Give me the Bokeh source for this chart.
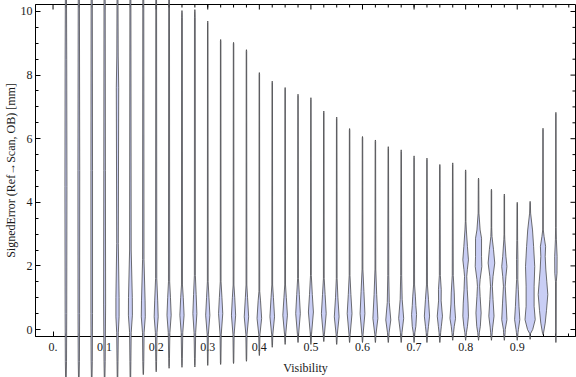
from bokeh.plotting import figure
from bokeh.models import Range1d, FixedTicker
from bokeh.embed import file_html
from bokeh.resources import INLINE

# ---------------- data ----------------
visibility = [0.025, 0.05, 0.075, 0.1, 0.125, 0.15, 0.175, 0.2, 0.225, 0.25,
              0.275, 0.3, 0.325, 0.35, 0.375, 0.4, 0.425, 0.45, 0.475, 0.5,
              0.525, 0.55, 0.575, 0.6, 0.625, 0.65, 0.675, 0.7, 0.725, 0.75,
              0.775, 0.8, 0.825, 0.85, 0.875, 0.9, 0.925, 0.95, 0.975]

# lower / upper end of every violin (signed error, mm)
error_min = [-1.7, -1.7, -1.7, -1.7, -1.7, -1.7, -1.42, -1.33, -1.22, -1.19,
             -1.18, -1.13, -1.10, -1.07, -1.00, -0.82, -0.56, -0.47, -0.41, -0.47,
             -0.38, -0.47, -0.41, -0.41, -0.41, -0.41, -0.41, -0.41, -0.41, -0.41,
             -0.34, -0.34, -0.34, -0.34, -0.34, -0.34, -0.31, -0.16, -0.41]
error_max = [10.8, 10.8, 10.8, 10.8, 10.8, 10.8, 10.8, 10.8, 10.8, 10.03,
             10.06, 9.70, 9.12, 9.03, 8.80, 8.08, 7.81, 7.61, 7.40, 7.29,
             6.87, 6.68, 6.32, 6.07, 5.96, 5.75, 5.65, 5.46, 5.39, 5.19,
             5.24, 5.02, 4.76, 4.41, 4.26, 4.00, 4.03, 6.33, 6.83]

# density outline of each violin: (signed error, half width in px of the original)
profiles = [
    [(-1.0, 0.6), (0.5, 0.8), (4.5, 1.0), (8.5, 0.8), (10.3, 0.6)],
    [(-1.0, 0.6), (0.5, 0.8), (5.0, 0.9), (10.3, 0.6)],
    [(-1.0, 0.6), (0.5, 0.8), (5.0, 0.8), (10.3, 0.6)],
    [(-1.0, 0.6), (0.8, 1.0), (5.0, 0.8), (10.3, 0.6)],
    [(-1.0, 0.5), (-0.1, 0.8), (0.4, 1.6), (1.0, 1.6), (2.7, 0.8), (7.6, 1.2), (8.6, 0.7), (10.3, 0.5)],
    [(-1.0, 0.5), (-0.1, 0.8), (0.45, 2.0), (1.0, 1.9), (2.5, 0.8), (10.3, 0.5)],
    [(-1.0, 0.5), (-0.1, 0.8), (0.4, 2.0), (0.9, 1.8), (2.2, 0.7), (10.3, 0.5)],
    [(-1.0, 0.4), (-0.1, 0.8), (0.4, 2.0), (0.9, 1.5), (1.6, 0.6), (10.3, 0.4)],
    [(-0.9, 0.4), (-0.1, 0.8), (0.45, 2.1), (1.0, 1.4), (1.5, 0.6), (10.3, 0.4)],
    [(-0.9, 0.4), (-0.1, 0.8), (0.45, 2.1), (1.0, 1.3), (1.4, 0.5), (9.8, 0.4)],
    [(-0.9, 0.4), (-0.1, 0.8), (0.5, 2.0), (1.1, 1.3), (1.7, 0.5), (9.8, 0.4)],
    [(-0.15, 0.6), (0.45, 2.1), (1.0, 1.2), (1.5, 0.4)],
    [(-0.15, 0.6), (0.5, 2.1), (1.0, 1.3), (1.5, 0.4)],
    [(-0.15, 0.6), (0.45, 2.1), (1.0, 1.2), (1.4, 0.4)],
    [(-0.15, 0.6), (0.4, 2.2), (1.0, 1.1), (1.4, 0.4)],
    [(-0.15, 0.6), (0.35, 2.3), (0.9, 1.2), (1.2, 0.4)],
    [(-0.15, 0.6), (0.4, 2.3), (1.0, 1.2), (1.4, 0.4)],
    [(-0.15, 0.6), (0.45, 2.3), (1.0, 1.2), (1.4, 0.4)],
    [(-0.15, 0.6), (0.5, 2.3), (1.1, 1.3), (1.6, 0.4)],
    [(-0.15, 0.6), (0.55, 2.5), (1.1, 1.4), (1.7, 0.4)],
    [(-0.15, 0.6), (0.5, 2.4), (1.1, 1.3), (1.6, 0.4)],
    [(-0.15, 0.6), (0.4, 2.4), (1.0, 1.2), (1.6, 0.4)],
    [(-0.15, 0.6), (0.5, 2.4), (1.1, 1.3), (1.7, 0.4)],
    [(-0.15, 0.6), (0.5, 2.4), (1.2, 1.4), (1.9, 0.4)],
    [(-0.15, 0.6), (0.35, 2.5), (1.1, 1.3), (1.9, 0.4)],
    [(-0.1, 0.8), (0.3, 2.5), (0.85, 1.0), (1.7, 0.5)],
    [(-0.1, 0.8), (0.35, 2.5), (0.95, 1.0), (1.7, 0.5)],
    [(-0.1, 0.8), (0.1, 1.8), (0.47, 2.5), (0.75, 1.8), (1.05, 1.3), (1.4, 0.5)],
    [(-0.1, 0.8), (0.1, 1.5), (0.42, 2.6), (0.95, 1.5), (1.4, 0.5)],
    [(-0.1, 0.8), (0.1, 1.5), (0.42, 2.6), (0.9, 1.3), (1.25, 1.4), (1.7, 0.5)],
    [(-0.1, 0.8), (0.1, 1.5), (0.35, 2.8), (0.8, 1.8), (1.15, 1.5), (1.7, 0.5)],
    [(-0.1, 0.8), (0.1, 1.8), (0.42, 2.8), (0.83, 2.4), (1.25, 1.6), (1.67, 1.1), (1.88, 1.7),
     (2.19, 2.8), (2.61, 1.8), (3.13, 0.7), (3.4, 0.3)],
    [(-0.1, 0.8), (0.1, 1.8), (0.52, 2.6), (1.04, 1.6), (1.36, 1.1), (1.57, 1.6), (1.98, 3.3),
     (2.3, 3.0), (2.87, 3.0), (3.13, 1.6), (3.66, 0.4)],
    [(-0.1, 0.8), (0.05, 1.2), (0.42, 2.6), (0.94, 1.6), (1.36, 0.9), (1.67, 1.6), (2.09, 3.3),
     (2.51, 2.1), (2.92, 0.6), (3.2, 0.3)],
    [(-0.1, 0.8), (0.0, 0.9), (0.31, 2.6), (0.83, 1.8), (1.36, 0.9), (1.67, 1.6), (1.98, 2.6),
     (2.3, 1.6), (2.82, 0.5), (3.0, 0.3)],
    [(-0.1, 0.8), (0.0, 1.2), (0.31, 2.6), (0.73, 1.8), (1.25, 1.1), (1.57, 0.6), (2.2, 0.7), (2.8, 0.4)],
    [(-0.13, 0.4), (0.0, 2.6), (0.31, 5.1), (0.73, 4.0), (1.36, 4.0), (1.98, 4.6), (2.61, 3.5),
     (3.13, 2.4), (3.66, 0.5)],
    [(-0.13, 0.4), (0.2, 2.2), (0.6, 3.5), (1.1, 4.8), (1.5, 3.8), (1.9, 2.8), (2.3, 2.2),
     (2.61, 2.6), (2.92, 1.1), (3.13, 0.3)],
    [(-0.2, 0.3), (1.5, 0.4), (1.77, 1.1), (2.3, 1.2), (2.82, 0.5), (3.2, 0.3)],
]

x_tick_values = [0.0, 0.1, 0.2, 0.3, 0.4, 0.5, 0.6, 0.7, 0.8, 0.9]
x_tick_labels = ["0.", "0.1", "0.2", "0.3", "0.4", "0.5", "0.6", "0.7", "0.8", "0.9"]
y_tick_values = [0, 2, 4, 6, 8, 10]
x_minor_values = [0.025 * i for i in range(0, 41)]
y_minor_values = [0.5 * i for i in range(0, 21)]

X_LO, X_HI = -0.034, 1.013
Y_LO, Y_HI = -0.22, 10.22

# ---------------- build violin outlines ----------------
PX = 1.0 / 515.0   # one pixel of the original chart in visibility units
STEM = 0.25
xs, ys = [], []
for v, lo, hi, prof in zip(visibility, error_min, error_max, profiles):
    knots = list(prof)
    if lo + 0.05 < knots[0][0]:
        knots = [(lo + 0.05, STEM)] + knots
    if hi - 0.05 > knots[-1][0]:
        knots = knots + [(hi - 0.05, STEM)]
    knots = [(lo, 0.0)] + knots + [(hi, 0.0)]
    yy = [k[0] for k in knots]
    ww = [k[1] for k in knots]
    xs.append([v + w * PX for w in ww] + [v - w * PX for w in reversed(ww)])
    ys.append(yy + yy[::-1])

FONT = "Liberation Serif"

p = figure(width=576, height=377,
           x_range=Range1d(X_LO, X_HI), y_range=Range1d(Y_LO, Y_HI),
           output_backend="svg", toolbar_location=None,
           min_border_left=34, min_border_right=1, min_border_top=4, min_border_bottom=40)
p.grid.visible = False
p.outline_line_color = "black"
p.outline_line_width = 1
p.background_fill_color = "white"
p.border_fill_color = "white"


def style_axis(ax):
    ax.axis_line_color = "black"
    ax.axis_line_width = 1
    ax.major_tick_line_color = "black"
    ax.minor_tick_line_color = "black"
    ax.major_tick_in = 5
    ax.major_tick_out = 0
    ax.minor_tick_in = 3
    ax.minor_tick_out = 0
    ax.major_label_text_font = FONT
    ax.major_label_text_color = "#1a1a1a"
    ax.major_label_text_font_size = "12px"
    ax.axis_label_text_font = FONT
    ax.axis_label_text_font_size = "12px"
    ax.axis_label_text_font_style = "normal"
    ax.axis_label_text_color = "#1a1a1a"


xa = p.xaxis[0]
xa.ticker = FixedTicker(ticks=x_tick_values, minor_ticks=x_minor_values)
xa.major_label_overrides = dict(zip(x_tick_values, x_tick_labels))
xa.axis_label = "Visibility"
style_axis(xa)
xa.major_label_standoff = 6
xa.axis_label_standoff = 7

ya = p.yaxis[0]
ya.ticker = FixedTicker(ticks=y_tick_values, minor_ticks=y_minor_values)
ya.axis_label = "SignedError (Ref\u2192Scan, OB) [mm]"
style_axis(ya)
ya.major_label_standoff = 3
ya.axis_label_standoff = 0

# mirrored (label-less) ticks on the top and right edges of the frame
TX = 5.0 / 31.7    # 5 px in y units
TXm = 3.0 / 31.7
TY = 5.0 / 515.0   # 5 px in x units
TYm = 3.0 / 515.0
top_major = list(x_tick_values)
top_minor = [t for t in x_minor_values if t not in x_tick_values]
p.segment(x0=top_major, y0=[Y_HI] * len(top_major), x1=top_major,
          y1=[Y_HI - TX] * len(top_major), line_color="black", line_width=1)
p.segment(x0=top_minor, y0=[Y_HI] * len(top_minor), x1=top_minor,
          y1=[Y_HI - TXm] * len(top_minor), line_color="black", line_width=1)
right_minor = [t for t in y_minor_values if t not in y_tick_values]
p.segment(x0=[X_HI] * len(y_tick_values), y0=y_tick_values, x1=[X_HI - TY] * len(y_tick_values),
          y1=y_tick_values, line_color="black", line_width=1)
p.segment(x0=[X_HI] * len(right_minor), y0=right_minor, x1=[X_HI - TYm] * len(right_minor),
          y1=right_minor, line_color="black", line_width=1)

vr = p.patches(xs, ys, fill_color="#c9cef5", fill_alpha=1.0,
               line_color="#404040", line_width=0.75)
vr.level = "overlay"

open("out.html", "w").write(file_html(p, INLINE))
